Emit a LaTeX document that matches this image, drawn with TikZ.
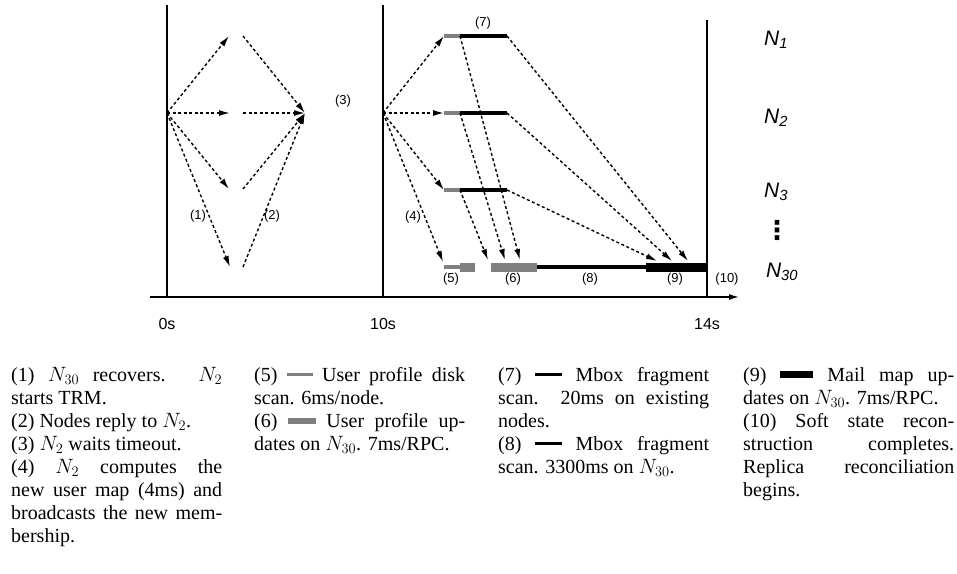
\documentclass[tikz,border=0pt]{standalone}
\usepackage{fontspec}
\setmainfont{Liberation Serif}
\setsansfont{Liberation Sans}
\newfontfamily\symfont{DejaVu Sans}
\usepackage{amsmath}
\usetikzlibrary{arrows.meta}
\definecolor{scangray}{RGB}{128,128,128}
\tikzstyle{msg} = [line width=1.4pt, dash pattern=on 3pt off 2.5pt,
    -{Latex[length=11pt,width=6pt]}]
\tikzstyle{timeline} = [line width=1.6pt]
\tikzstyle{axis} = [line width=2pt, -{Latex[length=11pt,width=6pt]}]
\tikzstyle{thinbar} = [line width=3.5pt]
\tikzstyle{thickbar} = [line width=9pt]
\tikzstyle{steplabel} = [font=\sffamily\fontsize{13}{15}\selectfont, inner sep=0pt]
\tikzstyle{timelabel} = [font=\sffamily\fontsize{16}{18}\selectfont, inner sep=0pt]
\tikzstyle{nodelabel} = [font=\sffamily\itshape\fontsize{21}{24}\selectfont, inner sep=0pt]
\tikzstyle{notebox} = [anchor=north west, inner sep=0pt, text width=211pt,
    align=justify, font=\fontsize{20}{23}\selectfont]
\newcommand{\keybar}[4]{{\color{#1}\rule[#4]{#3}{#2}}}

\begin{document}
\begin{tikzpicture}[x=1pt,y=-1pt]
\useasboundingbox (0,0) rectangle (957,573);

% time axis and phase lines
\coordinate (axstart) at (150,297);
\coordinate (axend) at (740,297);
\coordinate (t0top) at (167,5);
\coordinate (t0) at (167,297);
\coordinate (t10top) at (383,5);
\coordinate (t10) at (383,297);
\coordinate (t14top) at (707,20);
\coordinate (t14) at (707,297);
\draw[axis] (axstart) -- (axend);
\draw[timeline] (t0top) -- (t0);
\draw[timeline] (t10top) -- (t10);
\draw[timeline] (t14top) -- (t14);
\node[timelabel] (lab0) at (167,324) {0s};
\node[timelabel] (lab10) at (383,324) {10s};
\node[timelabel] (lab14) at (707,324) {14s};

% node names
\node[nodelabel] (n1) at (776,40) {N\textsubscript{1}};
\node[nodelabel] (n2) at (776,118) {N\textsubscript{2}};
\node[nodelabel] (n3) at (776,192) {N\textsubscript{3}};
\node[font=\symfont\bfseries\fontsize{26}{28}\selectfont, inner sep=0pt] (ndots) at (777,230) {⋮};
\node[nodelabel] (n30) at (782,272) {N\textsubscript{30}};

% phase 1: TRM, replies, timeout
\coordinate (trm) at (167,113);
\coordinate (ask1) at (229,36);
\coordinate (ask2) at (230,113);
\coordinate (ask3) at (229,189);
\coordinate (ask4) at (230,267);
\coordinate (rep1) at (243,36);
\coordinate (rep2) at (243,113);
\coordinate (rep3) at (243,189);
\coordinate (rep4) at (243,267);
\coordinate (wait) at (305,113);
\draw[msg] (trm) -- (ask1);
\draw[msg] (trm) -- (ask2);
\draw[msg] (trm) -- (ask3);
\draw[msg] (trm) -- (ask4);
\draw[msg] (rep1) -- (wait);
\draw[msg] (rep2) -- (wait);
\draw[msg] (rep3) -- (wait);
\draw[msg] (rep4) -- (wait);
\node[steplabel] (s1) at (198,216) {(1)};
\node[steplabel] (s2) at (272,216) {(2)};
\node[steplabel] (s3) at (343,101) {(3)};

% phase 2: broadcast and scans
\coordinate (bc) at (383,113);
\coordinate (d1) at (444,36);
\coordinate (m1) at (460,36);
\coordinate (e1) at (507,36);
\coordinate (d2) at (444,113);
\coordinate (m2) at (460,113);
\coordinate (e2) at (507,113);
\coordinate (d3) at (444,190);
\coordinate (m3) at (460,190);
\coordinate (e3) at (507,190);
\coordinate (bcend) at (443,262);
\coordinate (d30) at (444,267);
\coordinate (m30) at (460,267);
\coordinate (g30) at (475,267);
\coordinate (u30s) at (491,267);
\coordinate (u30e) at (537,267);
\coordinate (x30s) at (646,267);
\coordinate (x30e) at (707,267);
\coordinate (in1) at (520,260);
\coordinate (in2) at (505,260);
\coordinate (in3) at (488,260);
\coordinate (mm1) at (688,261);
\coordinate (mm2) at (672,261);
\coordinate (mm3) at (657,261);

\draw[thinbar, scangray] (d1) -- (m1);
\draw[thinbar] (m1) -- (e1);
\draw[thinbar, scangray] (d2) -- (m2);
\draw[thinbar] (m2) -- (e2);
\draw[thinbar, scangray] (d3) -- (m3);
\draw[thinbar] (m3) -- (e3);
\draw[thinbar, scangray] (d30) -- (m30);
\draw[thickbar, scangray] (m30) -- (g30);
\draw[thickbar, scangray] (u30s) -- (u30e);
\draw[thinbar] (u30e) -- (x30s);
\draw[thickbar] (x30s) -- (x30e);

\draw[msg] (bc) -- (d1);
\draw[msg] (bc) -- (d2);
\draw[msg] (bc) -- (d3);
\draw[msg] (bc) -- (bcend);
\draw[msg] (m1) -- (in1);
\draw[msg] (m2) -- (in2);
\draw[msg] (m3) -- (in3);
\draw[msg] (e1) -- (mm1);
\draw[msg] (e2) -- (mm2);
\draw[msg] (e3) -- (mm3);

\node[steplabel] (s4) at (413,217) {(4)};
\node[steplabel] (s5) at (451,279) {(5)};
\node[steplabel] (s6) at (513,279) {(6)};
\node[steplabel] (s7) at (483,23) {(7)};
\node[steplabel] (s8) at (590,279) {(8)};
\node[steplabel] (s9) at (675,279) {(9)};
\node[steplabel] (s10) at (727,279) {(10)};

% notes
\node[notebox] (note1) at (11,367) {%
  (1) $N_{30}$ recovers. $N_2$\linebreak starts TRM.\\
  (2) Nodes reply to $N_2$.\\
  (3) $N_2$ waits timeout.\\
  (4) $N_2$ computes the\linebreak new user map (4ms) and\linebreak broadcasts the new mem-\linebreak bership.};
\node[notebox] (note2) at (254,367) {%
  (5) \keybar{scangray}{3pt}{26pt}{5pt} User profile disk\linebreak scan. 6ms/node.\\
  (6) \keybar{scangray}{6pt}{28pt}{3.5pt} User profile up-\linebreak dates on $N_{30}$. 7ms/RPC.};
\node[notebox] (note3) at (498,367) {%
  (7) \keybar{black}{3.5pt}{27pt}{5pt} Mbox fragment\linebreak scan.\ \ 20ms on existing\linebreak nodes.\\
  (8) \keybar{black}{3.5pt}{27pt}{5pt} Mbox fragment\linebreak scan. 3300ms on $N_{30}$.};
\node[notebox] (note4) at (743,367) {%
  (9) \keybar{black}{7pt}{33pt}{3pt} Mail map up-\linebreak dates on $N_{30}$. 7ms/RPC.\\
  (10) Soft state recon-\linebreak struction completes.\linebreak Replica reconciliation\linebreak begins.};
\end{tikzpicture}
\end{document}
